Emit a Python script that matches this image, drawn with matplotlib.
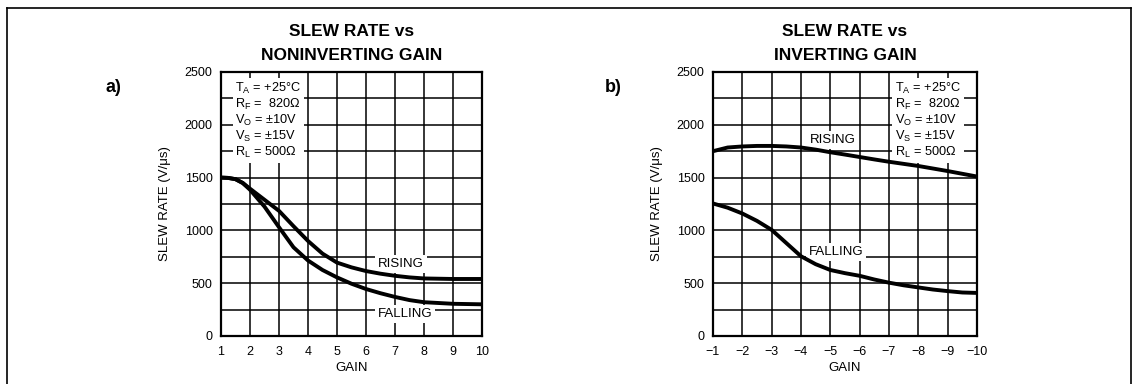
import numpy as np
import matplotlib.pyplot as plt
from matplotlib.lines import Line2D

plt.rcParams['font.family'] = ['Liberation Sans', 'DejaVu Sans']
plt.rcParams['mathtext.default'] = 'regular'

# panel a) noninverting gain
gain_a = [1, 1.25, 1.5, 1.75, 2, 2.5, 3, 3.5, 4, 4.5, 5, 5.5, 6, 6.5, 7, 7.5, 8, 9, 10]
rise_a = [1500, 1497, 1485, 1450, 1395, 1290, 1185, 1040, 900, 780, 695, 650, 615, 590, 570, 555, 545, 540, 540]
fall_a = [1500, 1497, 1485, 1448, 1385, 1225, 1030, 840, 715, 625, 555, 495, 445, 405, 370, 340, 320, 305, 300]

# panel b) inverting gain
gain_b = [-1, -1.5, -2, -2.5, -3, -3.5, -4, -4.5, -5, -5.5, -6, -6.5, -7, -7.5, -8, -8.5, -9, -9.5, -10]
rise_b = [1750, 1785, 1795, 1800, 1800, 1795, 1785, 1765, 1740, 1718, 1695, 1672, 1650, 1630, 1610, 1586, 1562, 1536, 1510]
fall_b = [1255, 1215, 1160, 1090, 1005, 880, 755, 680, 625, 595, 570, 535, 505, 480, 460, 440, 425, 412, 408]

notes = 'T$_A$ = +25°C\nR$_F$ =  820Ω\nV$_O$ = ±10V\nV$_S$ = ±15V\nR$_L$ = 500Ω'

fig = plt.figure(figsize=(11.33, 3.84), dpi=100)

def panel(rect, x, rise, fall, xlim, xticks, title, letter, lx, note_xy, rise_xy, fall_xy):
    ax = fig.add_axes(rect)
    ax.set_xlim(*xlim)
    ax.set_ylim(0, 2500)
    ax.set_xticks(xticks)
    ax.set_yticks(np.arange(0, 2501, 500))
    ax.set_yticks(np.arange(0, 2501, 250), minor=True)
    ax.set_xticklabels([str(t).replace('-', '\u2212') for t in xticks])
    ax.grid(True, which='both', color='black', lw=1.1)
    ax.tick_params(which='both', length=0, labelsize=9)
    ax.tick_params(axis='y', pad=6)
    ax.tick_params(axis='x', pad=7)
    for s in ax.spines.values():
        s.set_linewidth(1.6)
    ax.plot(x, rise, color='black', lw=2.8, zorder=4)
    ax.plot(x, fall, color='black', lw=2.8, zorder=4)
    ax.set_xlabel('GAIN', fontsize=9.5, labelpad=3)
    ax.set_ylabel('SLEW RATE (V/μs)', fontsize=9.5, labelpad=10)
    wb = dict(facecolor='white', edgecolor='none', pad=2)
    ax.text(*note_xy, notes, fontsize=9.2, va='top', ha='left', linespacing=1.1,
            bbox=dict(facecolor='white', edgecolor='none', pad=2), zorder=3)
    ax.text(*rise_xy, 'RISING', fontsize=9.5, ha='center', va='center', bbox=wb, zorder=3)
    ax.text(*fall_xy, 'FALLING', fontsize=9.5, ha='center', va='center', bbox=wb, zorder=3)
    cx = rect[0] + rect[2] / 2
    t1, t2 = title
    fig.text(cx, 1 - 32 / 384, t1, fontsize=12.5, fontweight='bold', ha='center', va='center')
    fig.text(cx, 1 - 55 / 384, t2, fontsize=12.5, fontweight='bold', ha='center', va='center')
    fig.text(lx, 1 - 88 / 384, letter, fontsize=13, fontweight='bold', ha='center', va='center')
    return ax

panel([221 / 1133, 48 / 384, 261 / 1133, 264 / 384], gain_a, rise_a, fall_a, (1, 10),
      list(range(1, 11)), ('SLEW RATE vs', 'NONINVERTING GAIN'), 'a)', 113 / 1133,
      (1.5, 2420), (7.2, 682), (7.35, 208))
panel([713 / 1133, 48 / 384, 264 / 1133, 264 / 384], gain_b, rise_b, fall_b, (-1, -10),
      list(range(-1, -11, -1)), ('SLEW RATE vs', 'INVERTING GAIN'), 'b)', 613 / 1133,
      (-7.2, 2420), (-5.1, 1856), (-5.2, 795))

# outer frame (open at the bottom)
fy = 1 - 8 / 384
fig.add_artist(Line2D([7 / 1133, 1131 / 1133], [fy, fy], color='black', lw=1.2))
fig.add_artist(Line2D([7 / 1133, 7 / 1133], [0, fy], color='black', lw=1.2))
fig.add_artist(Line2D([1131 / 1133, 1131 / 1133], [0, fy], color='black', lw=1.2))

fig.savefig('out.png', dpi=100)
